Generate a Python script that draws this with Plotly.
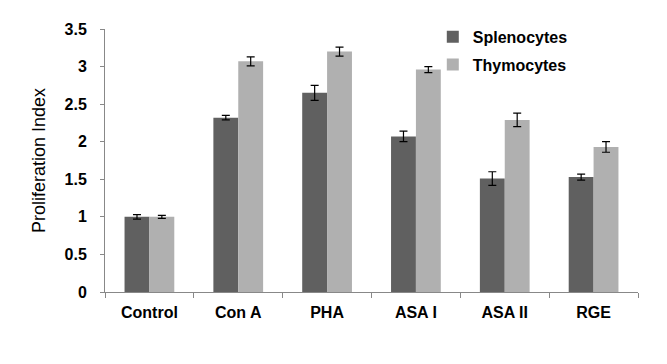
import plotly.graph_objects as go

categories = ["Control", "Con A", "PHA", "ASA I", "ASA II", "RGE"]
splenocytes = [1.00, 2.32, 2.65, 2.07, 1.51, 1.53]
splenocytes_err = [0.03, 0.03, 0.10, 0.07, 0.09, 0.04]
thymocytes = [1.00, 3.07, 3.20, 2.96, 2.29, 1.93]
thymocytes_err = [0.02, 0.06, 0.06, 0.04, 0.09, 0.07]
y_ticks = [0, 0.5, 1, 1.5, 2, 2.5, 3, 3.5]
y_tick_labels = ["0", "0.5", "1", "1.5", "2", "2.5", "3", "3.5"]

font_family = "Liberation Sans, Arial, sans-serif"

fig = go.Figure()
fig.add_trace(go.Bar(
    x=categories, y=splenocytes, name="<b>Splenocytes</b>",
    marker=dict(color="#606060", line=dict(width=0)),
    error_y=dict(type="data", array=splenocytes_err, color="black", thickness=1.2, width=4),
    legendgroup="a",
))
fig.add_trace(go.Bar(
    x=categories, y=thymocytes, name="<b>Thymocytes</b>",
    marker=dict(color="#b0b0b0", line=dict(width=0)),
    error_y=dict(type="data", array=thymocytes_err, color="black", thickness=1.2, width=4),
    legendgroup="b",
))

# page body has an 8px default margin; compensate in the figure margins
fig.update_layout(
    width=667, height=364,
    margin=dict(l=97, r=37, t=19, b=80),
    paper_bgcolor="white", plot_bgcolor="white",
    barmode="group", bargap=0.44, bargroupgap=0,
    font=dict(family=font_family, size=14, color="black"),
    showlegend=True,
    legend=dict(x=0.615, y=1.035, xanchor="left", yanchor="top",
                font=dict(size=16, color="black"),
                tracegroupgap=4, itemwidth=30, bgcolor="rgba(0,0,0,0)"),
    xaxis=dict(
        showline=True, linecolor="#888888", linewidth=1,
        ticks="outside", tickson="boundaries", ticklen=5, tickcolor="#888888",
        tickfont=dict(size=16, family=font_family, color="black", weight="bold"),
        ticklabelstandoff=6,
        showgrid=False, zeroline=False,
    ),
    yaxis=dict(
        range=[0, 3.5], tickvals=y_ticks, ticktext=y_tick_labels,
        showline=True, linecolor="#888888", linewidth=1,
        ticks="outside", ticklen=4, tickcolor="#888888",
        tickfont=dict(size=16, family=font_family, color="black", weight="bold"),
        ticklabelstandoff=10,
        showgrid=False, zeroline=False,
        title=dict(text="Proliferation Index", font=dict(size=18, family=font_family), standoff=14),
    ),
)

fig.write_html("out.html")
